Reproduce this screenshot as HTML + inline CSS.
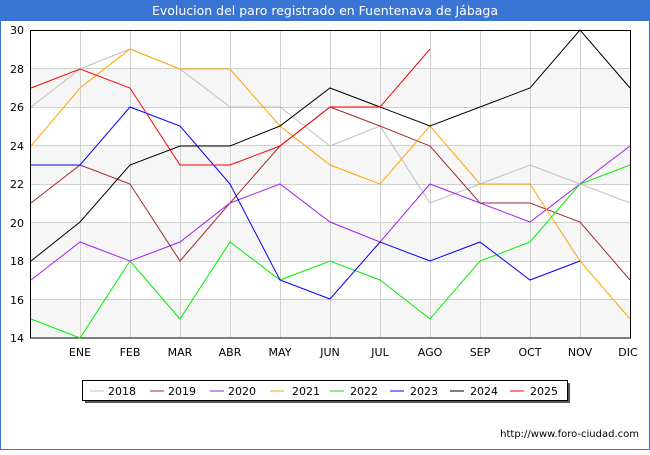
<!DOCTYPE html>
<html><head><meta charset="utf-8"><style>
body{margin:0;background:#fff;}
svg text{font-family:"DejaVu Sans","Liberation Sans",sans-serif;}
</style></head><body>
<svg width="650" height="450" xmlns="http://www.w3.org/2000/svg">
<rect x="0.5" y="0.5" width="649" height="449" fill="#fff" stroke="#3a75d6"/>
<rect x="0" y="0" width="650" height="21" fill="#3a75d6"/>
<text x="325" y="15" font-size="12.5" fill="#fff" text-anchor="middle">Evolucion del paro registrado en Fuentenava de Jábaga</text>
<g fill="#f6f6f6">
<rect x="31" y="68.5" width="600" height="38.5"/>
<rect x="31" y="145.5" width="600" height="38.5"/>
<rect x="31" y="222.5" width="600" height="38.5"/>
<rect x="31" y="299.5" width="600" height="38.5"/>
</g>
<g stroke="#d0d0d0" stroke-width="1">
<line x1="31" y1="68.5" x2="631" y2="68.5"/><line x1="31" y1="107.5" x2="631" y2="107.5"/>
<line x1="31" y1="145.5" x2="631" y2="145.5"/><line x1="31" y1="184.5" x2="631" y2="184.5"/>
<line x1="31" y1="222.5" x2="631" y2="222.5"/><line x1="31" y1="261.5" x2="631" y2="261.5"/>
<line x1="31" y1="299.5" x2="631" y2="299.5"/>
<line x1="80.5" y1="30" x2="80.5" y2="338"/><line x1="130.5" y1="30" x2="130.5" y2="338"/>
<line x1="180.5" y1="30" x2="180.5" y2="338"/><line x1="230.5" y1="30" x2="230.5" y2="338"/>
<line x1="280.5" y1="30" x2="280.5" y2="338"/><line x1="330.5" y1="30" x2="330.5" y2="338"/>
<line x1="380.5" y1="30" x2="380.5" y2="338"/><line x1="430.5" y1="30" x2="430.5" y2="338"/>
<line x1="480.5" y1="30" x2="480.5" y2="338"/><line x1="530.5" y1="30" x2="530.5" y2="338"/>
<line x1="580.5" y1="30" x2="580.5" y2="338"/>
</g>
<rect x="30.5" y="30.5" width="600" height="307.5" fill="none" stroke="#000"/>
<g font-size="11" fill="#000" text-anchor="end">
<text x="24" y="34">30</text><text x="24" y="73">28</text><text x="24" y="111">26</text>
<text x="24" y="150">24</text><text x="24" y="188">22</text><text x="24" y="227">20</text>
<text x="24" y="265">18</text><text x="24" y="304">16</text><text x="24" y="342">14</text>
</g>
<g font-size="11" fill="#000" text-anchor="middle">
<text x="80" y="356">ENE</text><text x="130" y="356">FEB</text><text x="180" y="356">MAR</text>
<text x="230" y="356">ABR</text><text x="280" y="356">MAY</text><text x="330" y="356">JUN</text>
<text x="380" y="356">JUL</text><text x="430" y="356">AGO</text><text x="480" y="356">SEP</text>
<text x="530" y="356">OCT</text><text x="580" y="356">NOV</text><text x="628" y="356">DIC</text>
</g>
<g fill="none" stroke-width="1">
<polyline stroke="#c0c0c0" points="31,107 80,69 130,49 180,69 230,107 280,107 330,146 380,126 430,203 480,184 530,165 580,184 630,203"/>
<polyline stroke="#a52a2a" points="31,203 80,165 130,184 180,261 230,203 280,146 330,107 380,126 430,146 480,203 530,203 580,222 630,280"/>
<polyline stroke="#a020f0" points="31,280 80,242 130,261 180,242 230,203 280,184 330,222 380,242 430,184 480,203 530,222 580,184 630,146"/>
<polyline stroke="#ffa500" points="31,146 80,88 130,49 180,69 230,69 280,126 330,165 380,184 430,126 480,184 530,184 580,261 630,319"/>
<polyline stroke="#00ee00" points="31,319 80,338 130,261 180,319 230,242 280,280 330,261 380,280 430,319 480,261 530,242 580,184 630,165"/>
<polyline stroke="#0000ff" points="31,165 80,165 130,107 180,126 230,184 280,280 330,299 380,242 430,261 480,242 530,280 580,261"/>
<polyline stroke="#000" points="31,261 80,222 130,165 180,146 230,146 280,126 330,88 380,107 430,126 480,107 530,88 580,30 630,88"/>
<polyline stroke="#ff0000" points="31,88 80,69 130,88 180,165 230,165 280,146 330,107 380,107 430,49"/>
</g>
<rect x="85" y="383" width="485" height="20" fill="#555"/>
<rect x="82.5" y="380.5" width="485" height="20" fill="#fff" stroke="#000"/>
<g font-size="11" fill="#000">
<line x1="90" y1="391" x2="104" y2="391" stroke="#c0c0c0"/><text x="108" y="395">2018</text>
<line x1="150" y1="391" x2="164" y2="391" stroke="#a52a2a"/><text x="168" y="395">2019</text>
<line x1="210" y1="391" x2="224" y2="391" stroke="#a020f0"/><text x="228" y="395">2020</text>
<line x1="270" y1="391" x2="284" y2="391" stroke="#ffa500"/><text x="292" y="395">2021</text>
<line x1="330" y1="391" x2="344" y2="391" stroke="#00ee00"/><text x="350" y="395">2022</text>
<line x1="390" y1="391" x2="404" y2="391" stroke="#0000ff"/><text x="410" y="395">2023</text>
<line x1="450" y1="391" x2="464" y2="391" stroke="#000"/><text x="470" y="395">2024</text>
<line x1="510" y1="391" x2="524" y2="391" stroke="#ff0000"/><text x="530" y="395">2025</text>
</g>
<text x="639" y="437" font-size="10" fill="#000" text-anchor="end">http://www.foro-ciudad.com</text>
</svg>
</body></html>
